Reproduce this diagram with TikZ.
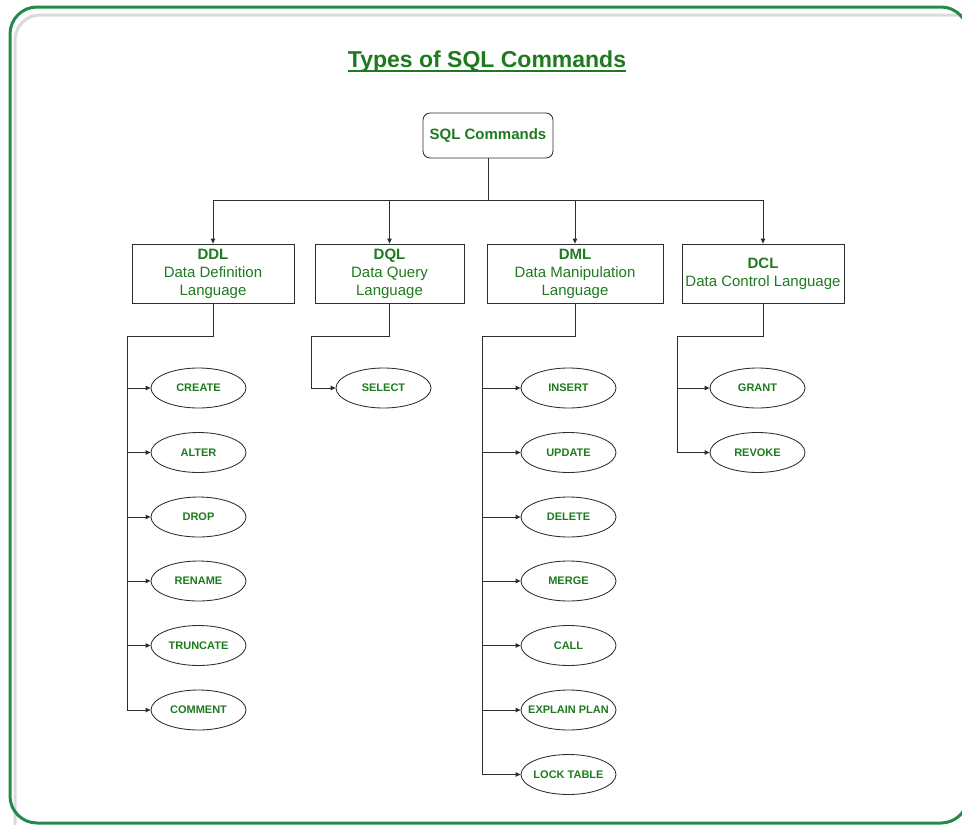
\documentclass[tikz,border=0pt]{standalone}
\usepackage{fontspec}
\setmainfont{Liberation Sans}
\usetikzlibrary{shapes.geometric,arrows.meta}
\definecolor{txtgreen}{RGB}{30,122,30}
\definecolor{bordgreen}{RGB}{36,138,72}
\definecolor{linec}{RGB}{45,45,45}
\definecolor{shadowgray}{RGB}{218,218,218}
\tikzset{
  conn/.style={draw=linec, line width=0.85pt},
  arr/.style={conn, -{Triangle[length=5pt,width=4.5pt]}},
  catbox/.style={draw=linec, line width=0.85pt, rectangle, minimum height=59pt, inner sep=0pt,
    align=center, text=txtgreen, font=\fontsize{15}{18}\selectfont},
  leaf/.style={draw=linec, line width=0.85pt, ellipse, minimum width=95pt, minimum height=40pt,
    inner xsep=-8pt, inner ysep=0pt, text=txtgreen, font=\fontsize{11}{13}\selectfont\bfseries},
}
\begin{document}
\begin{tikzpicture}[x=1pt,y=-1pt]
\useasboundingbox (0,0) rectangle (962,825);
\clip (0,0) rectangle (962,825);
% frame
\draw[shadowgray, line width=3pt] (15,840) -- (15,40) arc[start angle=180,end angle=270,radius=25] (40,15) -- (990,15);
\draw[bordgreen, line width=3pt, rounded corners=27pt] (10,7) rectangle (968,823);
% title
\node[inner sep=0pt, text=txtgreen, font=\fontsize{23}{26}\selectfont\bfseries, anchor=base] (title) at (487,67) {Types of SQL Commands};
\draw[txtgreen, line width=1.8pt] ([yshift=-4pt]title.base west) -- ([yshift=-4pt]title.base east);
% root
\node[draw=linec, line width=0.85pt, rounded corners=7pt, minimum width=130pt, minimum height=45pt,
  text=txtgreen, font=\fontsize{15}{18}\selectfont\bfseries] (sql) at (488,135.5) {SQL Commands};
% categories
\node[catbox, minimum width=162pt] (ddl) at (213,273.5) {\textbf{DDL}\\Data Definition\\Language};
\node[catbox, minimum width=149pt] (dql) at (389.5,273.5) {\textbf{DQL}\\Data Query\\Language};
\node[catbox, minimum width=176pt] (dml) at (575,273.5) {\textbf{DML}\\Data Manipulation\\Language};
\node[catbox, minimum width=162pt] (dcl) at (763,273.5) {\textbf{DCL}\\Data Control Language};
% top connectors
\coordinate (bus) at (488,200);
\draw[conn] (sql.south) -- (bus);
\draw[conn] (ddl.north |- bus) -- (dcl.north |- bus);
\draw[arr] (bus) -| (ddl.north);
\draw[arr] (bus) -| (dql.north);
\draw[arr] (bus) -| (dml.north);
\draw[arr] (bus) -| (dcl.north);
% leaves
\node[leaf] (create) at (198.5,388) {CREATE};
\node[leaf] (alter) at (198.5,452.5) {ALTER};
\node[leaf] (drop) at (198.5,517) {DROP};
\node[leaf] (rename) at (198.5,581) {RENAME};
\node[leaf] (truncate) at (198.5,645.5) {TRUNCATE};
\node[leaf] (comment) at (198.5,710) {COMMENT};
\node[leaf] (select) at (383.5,388) {SELECT};
\node[leaf] (insert) at (568.5,388) {INSERT};
\node[leaf] (update) at (568.5,452.5) {UPDATE};
\node[leaf] (delete) at (568.5,517) {DELETE};
\node[leaf] (merge) at (568.5,581) {MERGE};
\node[leaf] (call) at (568.5,645.5) {CALL};
\node[leaf] (explain) at (568.5,710) {EXPLAIN PLAN};
\node[leaf] (lock) at (568.5,774.5) {LOCK TABLE};
\node[leaf] (grant) at (757.5,388) {GRANT};
\node[leaf] (revoke) at (757.5,452.5) {REVOKE};
% branch corners
\coordinate (ddlc) at (127,336);
\coordinate (dqlc) at (311,336);
\coordinate (dmlc) at (482,336);
\coordinate (dclc) at (677,336);
\draw[conn] (ddl.south) |- (ddlc);
\draw[conn] (dql.south) |- (dqlc);
\draw[conn] (dml.south) |- (dmlc);
\draw[conn] (dcl.south) |- (dclc);
\foreach \n in {create,alter,drop,rename,truncate,comment}{\draw[arr] (ddlc) |- (\n.west);}
\draw[arr] (dqlc) |- (select.west);
\foreach \n in {insert,update,delete,merge,call,explain,lock}{\draw[arr] (dmlc) |- (\n.west);}
\foreach \n in {grant,revoke}{\draw[arr] (dclc) |- (\n.west);}
\end{tikzpicture}
\end{document}
